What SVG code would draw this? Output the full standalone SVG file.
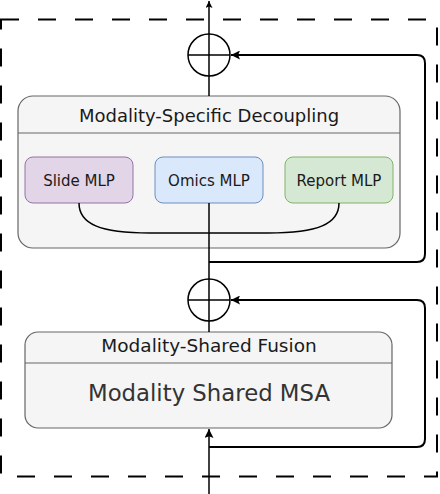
<svg xmlns="http://www.w3.org/2000/svg" width="440" height="494" viewBox="0 0 440 494">
<defs>
<style>
.ln{fill:none;stroke:#000;stroke-width:1.5}
.fb{fill:none;stroke:#000;stroke-width:2}
.box{fill:#f5f5f5;stroke:#666;stroke-width:1.2}
.t{font-family:"DejaVu Sans",sans-serif;fill:#1a1a1a;text-anchor:middle}
</style>
<marker id="ah" viewBox="0 0 10 10" refX="10" refY="5" markerWidth="7" markerHeight="7" markerUnits="userSpaceOnUse" orient="auto"><path d="M0,0 L10,5 L0,10 L2,5 Z" fill="#000"/></marker>
<marker id="ah2" viewBox="0 0 10 10" refX="10" refY="5" markerWidth="9" markerHeight="9" markerUnits="userSpaceOnUse" orient="auto"><path d="M0,0 L10,5 L0,10 L2,5 Z" fill="#000"/></marker>
</defs>
<rect id="frame" x="1" y="19.5" width="436" height="457" fill="none" stroke="#000" stroke-width="2" stroke-dasharray="18 19"/>
<g id="specific">
<rect class="box" x="18" y="96" width="382" height="152" rx="15"/>
<line x1="18" y1="133" x2="400" y2="133" stroke="#666" stroke-width="1.2"/>
<text class="t" x="209" y="122" font-size="18">Modality-Specific Decoupling</text>
</g>
<g id="slide">
<rect x="25" y="157" width="108" height="46" rx="8" fill="#e1d5e7" stroke="#9673a6" stroke-width="1"/>
<text class="t" x="79" y="186" font-size="15">Slide MLP</text>
</g>
<g id="omics">
<rect x="155" y="157" width="108" height="46" rx="8" fill="#dae8fc" stroke="#6c8ebf" stroke-width="1"/>
<text class="t" x="209" y="186" font-size="15">Omics MLP</text>
</g>
<g id="report">
<rect x="285" y="157" width="108" height="46" rx="8" fill="#d5e8d4" stroke="#82b366" stroke-width="1"/>
<text class="t" x="339" y="186" font-size="15">Report MLP</text>
</g>
<g id="shared">
<rect class="box" x="25" y="332" width="367" height="96" rx="13"/>
<line x1="25" y1="363" x2="392" y2="363" stroke="#666" stroke-width="1.2"/>
<text class="t" x="209" y="352" font-size="18.5">Modality-Shared Fusion</text>
<text class="t" x="209" y="401" font-size="22.8" style="fill:#333">Modality Shared MSA</text>
</g>
<g id="add1">
<circle cx="209" cy="55" r="21" fill="none" stroke="#000" stroke-width="1.5"/>
<line x1="188" y1="55" x2="230" y2="55" class="ln"/>
</g>
<g id="add2">
<circle cx="209" cy="300" r="21" fill="none" stroke="#000" stroke-width="1.5"/>
<line x1="188" y1="300" x2="230" y2="300" class="ln"/>
</g>
<g id="connectors">
<line class="ln" x1="209" y1="96" x2="209" y2="1" marker-end="url(#ah)"/>
<line class="ln" x1="209" y1="203" x2="209" y2="332"/>
<path class="ln" d="M79,203 C79,224 100,233 150,233 L268,233 C318,233 339,224 339,203"/>
<path class="fb" d="M209,262 L417,262 Q425,262 425,254 L425,63 Q425,55 417,55 L231,55" marker-end="url(#ah2)"/>
<path class="fb" d="M209,447 L417,447 Q425,447 425,439 L425,308 Q425,300 417,300 L231,300" marker-end="url(#ah2)"/>
<line class="ln" x1="209" y1="494" x2="209" y2="429" marker-end="url(#ah2)"/>
</g>
</svg>
